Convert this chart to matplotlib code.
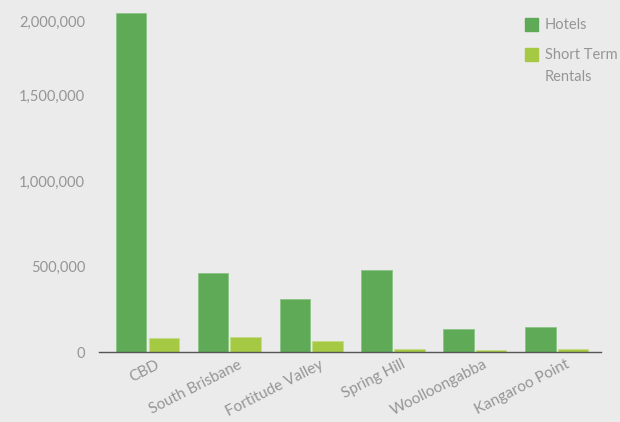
import matplotlib.pyplot as plt
import numpy as np
from matplotlib.patches import Rectangle
from matplotlib.ticker import FuncFormatter
import matplotlib.transforms as mtransforms

# suburbs and visitor nights by accommodation type
suburbs = ["CBD", "South Brisbane", "Fortitude Valley", "Spring Hill",
           "Woolloongabba", "Kangaroo Point"]
hotels = [1980000, 462000, 310000, 480000, 134000, 146000]
short_term = [81000, 88000, 64000, 17000, 12000, 17000]
yticks = [0, 500000, 1000000, 1500000, 2000000]

bg = "#ebebeb"
green = "#5eaa56"
lime = "#a6c944"
grey = "#959595"

plt.rcParams["font.family"] = ["Lato", "DejaVu Sans"]

fig = plt.figure(figsize=(6.2, 4.22), dpi=100, facecolor=bg)
ax = fig.add_axes([99 / 620, 1 - 352 / 422, 502 / 620, 342 / 422])
ax.set_facecolor(bg)

x = np.arange(len(suburbs))
w = 0.37
ax.bar(x - 0.2, hotels, w, color=green, edgecolor="#8cc487", linewidth=0.6)
ax.bar(x + 0.2, short_term, w, color=lime, edgecolor="#c4dc84", linewidth=0.6)

ax.set_xlim(-0.59, 5.54)
ax.set_ylim(0, 2000000)
ax.set_yticks(yticks)
ax.yaxis.set_major_formatter(FuncFormatter(lambda v, p: f"{int(v):,}"))
ax.tick_params(axis="y", length=0, pad=10, labelsize=10.5, labelcolor=grey)
ax.tick_params(axis="x", length=0, pad=4, labelsize=11, labelcolor=grey)
# top label sits a bit lower in the original
top = ax.get_yticklabels()[-1]
top.set_transform(top.get_transform() + mtransforms.ScaledTranslation(0, -11 / 100, fig.dpi_scale_trans))

ax.set_xticks(x + 0.1)
ax.set_xticklabels(suburbs, rotation=27, ha="right", rotation_mode="anchor")

for s in ["top", "right", "left"]:
    ax.spines[s].set_visible(False)
ax.spines["bottom"].set_color("#555555")
ax.spines["bottom"].set_linewidth(1)

# legend drawn by hand, placed like the original
fig.patches.append(Rectangle((525 / 620, 1 - 31 / 422), 13 / 620, 13 / 422,
                             transform=fig.transFigure, color=green))
fig.patches.append(Rectangle((525 / 620, 1 - 61 / 422), 13 / 620, 13 / 422,
                             transform=fig.transFigure, color=lime))
fig.text(545 / 620, 1 - 25 / 422, "Hotels", color=grey, fontsize=10.5, va="center")
fig.text(545 / 620, 1 - 55 / 422, "Short Term", color=grey, fontsize=10.5, va="center")
fig.text(545 / 620, 1 - 77 / 422, "Rentals", color=grey, fontsize=10.5, va="center")

fig.savefig("out.png", dpi=100, facecolor=bg)
